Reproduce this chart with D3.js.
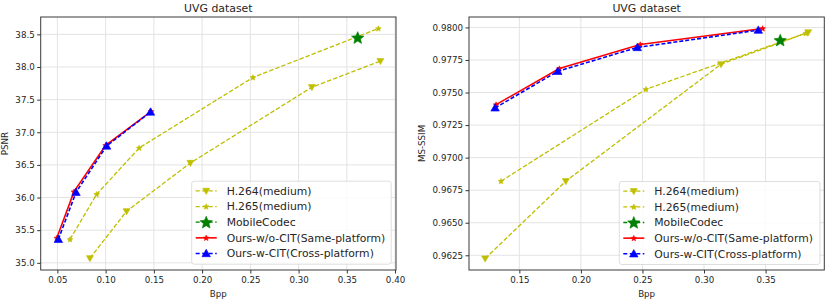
<!DOCTYPE html>
<html lang="en">
<head>
    <meta charset="UTF-8">
    <title>UVG dataset</title>
    <script src="https://d3js.org/d3.v7.min.js"></script>
    <style>
        body, html {
            margin: 0;
            padding: 0;
            background: #fff;
        }
        text {
            font-family: "DejaVu Sans", sans-serif;
            fill: #262626;
        }
        .grid line {
            stroke: #e3e3e3;
            stroke-width: 1;
        }
        .tick text {
            font-size: 8.7px;
        }
    </style>
</head>
<body>
    <script>
        // ---- PSNR panel data ----
        const psnrH264Bpp = [0.0837, 0.1217, 0.1879, 0.3138, 0.3848];
        const psnrH264 = [35.07, 35.79, 36.53, 37.69, 38.09];
        const psnrH265Bpp = [0.0631, 0.0907, 0.1348, 0.2527, 0.3827];
        const psnrH265 = [35.36, 36.05, 36.76, 37.84, 38.59];
        const psnrMobileBpp = [0.3613];
        const psnrMobile = [38.45];
        const psnrSameBpp = [0.0494, 0.0672, 0.1000, 0.1472];
        const psnrSame = [35.38, 36.09, 36.80, 37.32];
        const psnrCrossBpp = [0.0510, 0.0693, 0.1010, 0.1465];
        const psnrCross = [35.36, 36.08, 36.79, 37.31];

        // ---- MS-SSIM panel data ----
        const ssimH264Bpp = [0.1222, 0.1877, 0.3138, 0.3846];
        const ssimH264 = [0.96225, 0.96819, 0.97717, 0.97962];
        const ssimH265Bpp = [0.1351, 0.2528, 0.3827];
        const ssimH265 = [0.96819, 0.97525, 0.97955];
        const ssimMobileBpp = [0.3619];
        const ssimMobile = [0.97902];
        const ssimSameBpp = [0.1311, 0.1825, 0.2482, 0.3476];
        const ssimSame = [0.97407, 0.97684, 0.97869, 0.97992];
        const ssimCrossBpp = [0.1303, 0.1812, 0.2458, 0.3441];
        const ssimCross = [0.97382, 0.97663, 0.97846, 0.97979];

        const psnrXTicks = [0.05, 0.10, 0.15, 0.20, 0.25, 0.30, 0.35, 0.40];
        const psnrYTicks = [35.0, 35.5, 36.0, 36.5, 37.0, 37.5, 38.0, 38.5];
        const ssimXTicks = [0.15, 0.20, 0.25, 0.30, 0.35];
        const ssimYTicks = [0.9625, 0.9650, 0.9675, 0.9700, 0.9725, 0.9750, 0.9775, 0.9800];

        const legendNames = ["H.264(medium)", "H.265(medium)", "MobileCodec",
            "Ours-w/o-CIT(Same-platform)", "Ours-w-CIT(Cross-platform)"];

        const zip = (xs, ys) => xs.map((x, i) => [x, ys[i]]);

        const styles = [
            {color: "#bfbf00", dash: "4.5,2", width: 1.3, marker: "tri-down", size: 7},
            {color: "#bfbf00", dash: "4.5,2", width: 1.3, marker: "star", size: 6},
            {color: "#008000", dash: "4.5,2", width: 1.3, marker: "star", size: 13},
            {color: "#ff0000", dash: null, width: 1.6, marker: "star", size: 6},
            {color: "#0000ff", dash: "4,2", width: 1.6, marker: "tri-up", size: 8.5}
        ];

        const svg = d3.select("body").append("svg")
            .attr("width", 831)
            .attr("height", 301);

        function markerPath(type, size) {
            if (type === "star") {
                const r = size / 2, ri = r * 0.45;
                const pts = [];
                for (let i = 0; i < 10; i++) {
                    const a = -Math.PI / 2 + i * Math.PI / 5;
                    const rr = i % 2 === 0 ? r : ri;
                    pts.push([rr * Math.cos(a), rr * Math.sin(a) + r * 0.08]);
                }
                return "M" + pts.map(p => p.join(",")).join("L") + "Z";
            }
            const h = size / 2;
            if (type === "tri-up") return `M0,${-h}L${h},${h * 0.75}L${-h},${h * 0.75}Z`;
            return `M0,${h}L${h},${-h * 0.75}L${-h},${-h * 0.75}Z`;
        }

        function panel(opt) {
            const {left, right, top, bottom} = opt;
            const x = d3.scaleLinear().domain(opt.xDomain).range([left, right]);
            const y = d3.scaleLinear().domain(opt.yDomain).range([bottom, top]);
            const g = svg.append("g");

            const clipId = "clip" + opt.id;
            g.append("clipPath").attr("id", clipId)
                .append("rect")
                .attr("x", left).attr("y", top)
                .attr("width", right - left).attr("height", bottom - top);

            // grid
            const grid = g.append("g").attr("class", "grid");
            grid.selectAll(".gx").data(opt.xTicks).enter().append("line")
                .attr("x1", d => x(d)).attr("x2", d => x(d))
                .attr("y1", top).attr("y2", bottom);
            grid.selectAll(".gy").data(opt.yTicks).enter().append("line")
                .attr("y1", d => y(d)).attr("y2", d => y(d))
                .attr("x1", left).attr("x2", right);

            // axes
            const xAxis = g.append("g")
                .attr("transform", `translate(0,${bottom})`)
                .call(d3.axisBottom(x).tickValues(opt.xTicks).tickFormat(d3.format(".2f"))
                    .tickSize(3.5).tickPadding(3));
            const yAxis = g.append("g")
                .attr("transform", `translate(${left},0)`)
                .call(d3.axisLeft(y).tickValues(opt.yTicks).tickFormat(d3.format(opt.yFormat))
                    .tickSize(3.5).tickPadding(2.5));
            [xAxis, yAxis].forEach(a => {
                a.select(".domain").remove();
                a.selectAll(".tick line").attr("stroke", "#333");
                a.selectAll(".tick text").attr("fill", "#262626");
            });

            // series
            const plot = g.append("g").attr("clip-path", `url(#${clipId})`);
            const line = d3.line().x(d => x(d[0])).y(d => y(d[1]));
            opt.series.forEach((pts, i) => {
                const s = styles[i];
                if (pts.length > 1) {
                    plot.append("path")
                        .attr("d", line(pts))
                        .attr("fill", "none")
                        .attr("stroke", s.color)
                        .attr("stroke-width", s.width)
                        .attr("stroke-dasharray", s.dash);
                }
                plot.selectAll(null).data(pts).enter().append("path")
                    .attr("d", markerPath(s.marker, s.size))
                    .attr("transform", d => `translate(${x(d[0])},${y(d[1])})`)
                    .attr("fill", s.color)
                    .attr("stroke", s.color)
                    .attr("stroke-width", 0.6);
            });

            // frame
            g.append("rect")
                .attr("x", left).attr("y", top)
                .attr("width", right - left).attr("height", bottom - top)
                .attr("fill", "none")
                .attr("stroke", "#3a3a3a")
                .attr("stroke-width", 1);

            // labels
            g.append("text")
                .attr("x", (left + right) / 2).attr("y", 12)
                .attr("text-anchor", "middle")
                .style("font-size", "10.9px")
                .text("UVG dataset");
            g.append("text")
                .attr("x", (left + right) / 2).attr("y", 297)
                .attr("text-anchor", "middle")
                .style("font-size", "8.7px")
                .text("Bpp");
            g.append("text")
                .attr("transform", `translate(${opt.yLabelX},${(top + bottom) / 2}) rotate(-90)`)
                .attr("text-anchor", "middle")
                .style("font-size", "8.7px")
                .text(opt.yLabel);

            // legend
            const lg = g.append("g").attr("transform", `translate(${opt.legendX},${opt.legendY})`);
            lg.append("rect")
                .attr("width", opt.legendW).attr("height", 83)
                .attr("rx", 2.5)
                .attr("fill", "#fff").attr("fill-opacity", 0.85)
                .attr("stroke", "#d5d5d5").attr("stroke-width", 0.8);
            legendNames.forEach((name, i) => {
                const s = styles[i];
                const cy = 9.7 + i * 15.65;
                lg.append("line")
                    .attr("x1", 4).attr("x2", 25)
                    .attr("y1", cy).attr("y2", cy)
                    .attr("stroke", s.color)
                    .attr("stroke-width", s.width)
                    .attr("stroke-dasharray", s.dash ? "4,2.5" : null);
                lg.append("path")
                    .attr("d", markerPath(s.marker, s.size))
                    .attr("transform", `translate(14.5,${cy})`)
                    .attr("fill", s.color)
                    .attr("stroke", s.color)
                    .attr("stroke-width", 0.6);
                lg.append("text")
                    .attr("x", 35).attr("y", cy + 3.9)
                    .style("font-size", "10.8px")
                    .text(name);
            });
        }

        panel({
            id: "psnr",
            left: 40.7, right: 396, top: 17, bottom: 270,
            xDomain: [0.0327, 0.401], yDomain: [34.89, 38.766],
            xTicks: psnrXTicks, yTicks: psnrYTicks, yFormat: ".1f",
            yLabel: "PSNR", yLabelX: 8,
            legendX: 191.7, legendY: 181.2, legendW: 199.5,
            series: [
                zip(psnrH264Bpp, psnrH264),
                zip(psnrH265Bpp, psnrH265),
                zip(psnrMobileBpp, psnrMobile),
                zip(psnrSameBpp, psnrSame),
                zip(psnrCrossBpp, psnrCross)
            ]
        });

        panel({
            id: "ssim",
            left: 469, right: 824.3, top: 17, bottom: 270,
            xDomain: [0.1091, 0.3977], yDomain: [0.96137, 0.9808],
            xTicks: ssimXTicks, yTicks: ssimYTicks, yFormat: ".4f",
            yLabel: "MS-SSIM", yLabelX: 425,
            legendX: 619.3, legendY: 181.5, legendW: 200.7,
            series: [
                zip(ssimH264Bpp, ssimH264),
                zip(ssimH265Bpp, ssimH265),
                zip(ssimMobileBpp, ssimMobile),
                zip(ssimSameBpp, ssimSame),
                zip(ssimCrossBpp, ssimCross)
            ]
        });
    </script>
</body>
</html>
